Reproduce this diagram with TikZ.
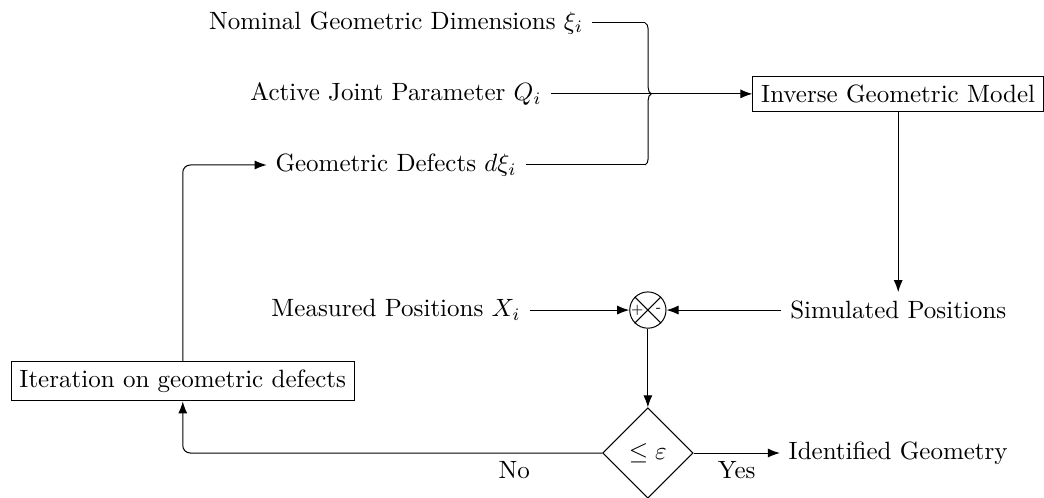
\documentclass[tikz,border=0pt]{standalone}
\usepackage{amsmath, amssymb}
\usepackage{tikz}
\usetikzlibrary{arrows.meta,shapes.geometric,decorations.pathreplacing}

\begin{document}
\begin{tikzpicture}[
      blockbox/.style={rectangle,draw,align=center},
      inlabel/.style={align=center},
      sumnode/.style={circle,draw,minimum size=0.51cm,inner sep=0pt},
      testbox/.style={diamond,draw,minimum size=1.27cm,inner sep=0pt},
      signlabel/.style={font=\tiny,inner sep=0pt},
      >=Latex
    ]
    \useasboundingbox (0,0) rectangle (14.68,-6.99);

    \node[inlabel] (nominal) at (5.57,-0.32) {Nominal Geometric Dimensions $\xi_i$};
    \node[inlabel] (active) at (5.57,-1.32) {Active Joint Parameter $Q_i$};
    \node[inlabel] (defects) at (5.57,-2.32) {Geometric Defects $d\xi_i$};
    \node[inlabel] (measured) at (5.57,-4.36) {Measured Positions $X_i$};

    \node[blockbox] (igm) at (12.63,-1.32) {Inverse Geometric Model};
    \node[inlabel] (sim) at (12.63,-4.36) {Simulated Positions};
    \node[inlabel] (ident) at (12.63,-6.37) {Identified Geometry};
    \node[blockbox] (iter) at (2.57,-5.36) {Iteration on geometric defects};

    \node[sumnode] (sum) at (9.11,-4.36) {};
    \node[signlabel] (plus) at ([xshift=-0.15cm]sum.center) {+};
    \node[signlabel] (minus) at ([xshift=0.15cm]sum.center) {-};
    \node[testbox] (test) at (9.11,-6.37) {$\leq\varepsilon$};

    \coordinate (brtop) at (9.07,-0.32);
    \coordinate (brbot) at (9.07,-2.32);

    \draw (sum.north west) -- (sum.south east) (sum.north east) -- (sum.south west);
    \draw[rounded corners=2pt] (nominal.east) -- (brtop);
    \draw[rounded corners=2pt] (defects.east) -- (brbot);
    \draw[decorate,decoration={brace,amplitude=2.5pt}] (brtop) -- (brbot);
    \draw[->] (active) -- (igm);

    \draw[->] (igm) -- (sim);
    \draw[->] (measured) -- (sum);
    \draw[->] (sim) -- (sum);
    \draw[->] (sum) -- (test);
    \draw[->] (test) -- node[below] {Yes} (ident);
    \draw[->,rounded corners=3pt] (test.west) -| node[pos=0.105,below] {No} (iter.south);
    \draw[->,rounded corners=3pt] (iter.north) |- (defects.west);
  \end{tikzpicture}
\end{document}
